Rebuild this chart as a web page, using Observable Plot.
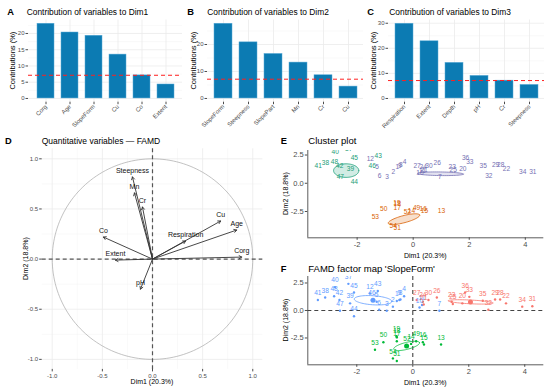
<!DOCTYPE html>
<html><head><meta charset="utf-8">
<script src="https://cdn.jsdelivr.net/npm/d3@7"></script>
<script src="https://cdn.jsdelivr.net/npm/@observablehq/plot@0.6"></script>
<style>
body{margin:0;background:#fff;}
#wrap{position:relative;width:550px;height:392px;overflow:hidden;background:#fff;font-family:"Liberation Sans",Arial,sans-serif;}
</style></head><body><div id="wrap"></div>
<script>
// ---------- data ----------
const dim1Vars = ["Corg","Age","SlopeForm","Cu","Co","Extent"];
const dim1Contrib = [23.0,20.3,19.3,13.5,7.1,4.3];
const dim2Vars = ["SlopeForm","Steepness","SlopePart","Mn","Cr","Cu"];
const dim2Contrib = [27.7,20.8,16.5,13.3,8.6,4.4];
const dim3Vars = ["Respiration","Extent","Depth","pH","Cr","Steepness"];
const dim3Contrib = [29.8,22.8,14.2,9.0,7.1,5.4];
const contribRef = 7.14;

const quantVars = ["Steepness","Mn","Cr","Cu","Age","Respiration","Corg","Co","Extent","pH"];
const quantDim1 = [-0.20,-0.18,-0.10,0.68,0.84,0.33,0.89,-0.49,-0.37,-0.12];
const quantDim2 = [0.82,0.66,0.52,0.38,0.29,0.18,0.02,0.22,-0.01,-0.30];

const indId = ["1","2","3","4","5","6","7","8","9","10","11","12","13","14","15","16","17","18","19","20",
  "21","22","23","24","25","26","27","28","29","30","31","32","33","34","35","36","37","38","39","40",
  "41","42","43","44","45","46","47","48","49","50","51","52","53","54"];
const indDim1 = [-0.57,-0.71,-0.93,-0.31,-1.29,-1.20,0.95,-0.44,-0.48,0.24,
  0.33,-1.53,1.01,-0.06,0.40,0.36,-0.57,-0.57,-0.58,1.77,
  0.39,3.33,1.39,0.36,1.43,0.86,0.14,3.12,2.94,0.56,
  4.27,2.70,2.02,3.91,2.50,1.87,-2.30,-3.13,-2.24,-2.78,
  -3.39,-2.62,-1.25,-2.10,-2.10,-1.46,-2.60,-2.81,0.12,-1.05,
  -0.57,-0.21,-1.35,-0.71];
const indDim2 = [0.86,0.35,-0.03,1.30,0.80,0.06,-0.03,1.00,0.95,0.27,
  0.50,1.54,-3.10,-3.04,-3.10,-2.89,-2.80,-2.45,-2.35,0.65,
  0.55,0.65,0.80,0.80,0.59,1.18,0.95,1.00,1.00,0.95,
  0.38,0.06,1.24,0.35,0.88,1.63,2.42,1.18,0.65,2.12,
  0.95,0.95,1.77,-0.53,1.63,0.95,-0.03,1.30,-2.80,-2.89,
  -4.60,-3.19,-3.57,-4.36];
const indCluster = ["2","2","2","2","2","2","2","2","2","2","2","2","3","3","3","3","3","3","3","2",
  "2","2","2","2","2","2","2","2","2","2","2","2","2","2","2","2","1","1","1","1",
  "1","1","1","1","1","1","1","1","3","3","3","3","3","3"];
const indSlope = ["S3","S3","S3","S3","S3","S3","S3","S3","S3","S3","S3","S3","S2","S2","S2","S2","S2","S2","S2","S1",
  "S1","S1","S1","S1","S1","S1","S1","S1","S1","S1","S1","S1","S1","S1","S1","S1","S3","S3","S3","S3",
  "S3","S3","S3","S3","S3","S3","S3","S3","S2","S2","S2","S2","S2","S2"];

const clusterNames = ["1","2","3"];
const clusterColors = ["#1B9E77","#7570B3","#D95F02"];
const clusterEllCx = [-2.39,0.97,-0.33], clusterEllCy = [1.12,0.84,-3.18];
const clusterEllAx = [0.45,0.82,0.56], clusterEllAy = [0,-0.03,0.37];
const clusterEllBx = [0,0,-0.04], clusterEllBy = [0.6,0.16,0.3];

const slopeNames = ["S1","S2","S3"];
const slopeColors = ["#F8766D","#00BA38","#619CFF"];
const slopeEllCx = [2.06,-0.22,-1.42], slopeEllCy = [0.78,-3.22,0.93];
const slopeEllAx = [0.80,0.46,0.67], slopeEllAy = [-0.1,0.3,-0.12];
const slopeEllBx = [0,-0.04,0.02], slopeEllBy = [0.17,0.3,0.41];

// ---------- helpers ----------
const W = 550, H = 392;
const FONT = "Liberation Sans, Arial, sans-serif";
const wrap = document.getElementById("wrap");
function add(node){ node.style.position="absolute"; node.style.left="0px"; node.style.top="0px"; wrap.appendChild(node); }
function frame(l,r,t,b){ return {width:W,height:H,marginLeft:l,marginRight:W-r,marginTop:t,marginBottom:H-b}; }
const baseStyle = {background:"transparent", fontFamily:FONT, color:"#4d4d4d", overflow:"visible"};

function barPanel(vars, vals, L, R){
  const max = d3.max(vals);
  const dom = [-0.05*max, 1.05*max];
  const majors = d3.ticks(dom[0], dom[1], 4).filter(v => v >= 0);
  const step = majors[1]-majors[0];
  const minors = majors.map(v => v+step/2).filter(v => v < dom[1]);
  const rows = vars.map((v,i) => ({v, c: vals[i]}));
  return Plot.plot({
    ...frame(L,R,19.5,101.7),
    style: baseStyle,
    x:{domain: vars, paddingInner:0.3, paddingOuter:0.25, label:null},
    y:{domain: dom, label:null},
    marks:[
      Plot.ruleY(minors,{stroke:"#f3f3f3", strokeWidth:0.5}),
      Plot.ruleY(majors,{stroke:"#ebebeb", strokeWidth:0.8}),
      Plot.gridX({stroke:"#ebebeb", strokeOpacity:1, strokeWidth:0.8}),
      Plot.barY(rows,{x:"v", y:"c", fill:"#0C7BB3", stroke:"#5AAAD6", strokeWidth:0.5}),
      Plot.ruleY([contribRef],{stroke:"#ff2020", strokeWidth:1, strokeDasharray:"4,3"}),
      Plot.axisY({ticks: majors, tickSize:2.5, tickPadding:1.5, fontSize:6, label:null}),
      Plot.axisX({tickSize:2.5, tickPadding:1, tickRotate:-45, fontSize:6, label:null})
    ]
  });
}

add(barPanel(dim1Vars, dim1Contrib, 28, 182));
add(barPanel(dim2Vars, dim2Contrib, 207, 363));
add(barPanel(dim3Vars, dim3Contrib, 388, 544));

// ---------- D ----------
const quantRows = quantVars.map((v,i) => ({v, x: quantDim1[i], y: quantDim2[i]}));
const circle = d3.range(0, 361, 2).map(a => ({x: Math.cos(a*Math.PI/180), y: Math.sin(a*Math.PI/180)}));
const dMaj = [-1,-0.5,0,0.5,1], dMin = [-0.75,-0.25,0.25,0.75];
add(Plot.plot({
  ...frame(41.7,262.3,148.3,368.9),
  style: baseStyle,
  x:{domain:[-1.1,1.1], label:null}, y:{domain:[-1.1,1.1], label:null},
  marks:[
    Plot.ruleX(dMin,{stroke:"#f3f3f3", strokeWidth:0.5}),
    Plot.ruleY(dMin,{stroke:"#f3f3f3", strokeWidth:0.5}),
    Plot.ruleX(dMaj,{stroke:"#ebebeb", strokeWidth:0.8}),
    Plot.ruleY(dMaj,{stroke:"#ebebeb", strokeWidth:0.8}),
    Plot.line(circle,{x:"x", y:"y", stroke:"#a8a8a8", strokeWidth:0.7}),
    Plot.ruleX([0],{stroke:"#555", strokeWidth:1.2, strokeDasharray:"4,3"}),
    Plot.ruleY([0],{stroke:"#555", strokeWidth:1.2, strokeDasharray:"4,3"}),
    Plot.arrow(quantRows,{x1:()=>0, y1:()=>0, x2:"x", y2:"y", stroke:"#333", strokeWidth:0.9, headLength:5}),
    Plot.text(quantRows,{x:"x", y:"y", text:"v", dy:-6, fontSize:7, fill:"#111"}),
    Plot.axisX({ticks:dMaj, tickFormat:d=>d.toFixed(1), tickSize:2.5, tickPadding:1.5, fontSize:6, label:null}),
    Plot.axisY({ticks:dMaj, tickFormat:d=>d.toFixed(1), tickSize:2.5, tickPadding:1.5, fontSize:6, label:null})
  ]
}));

// ---------- E / F ----------
const indRows = indId.map((id,i) => ({id, x: indDim1[i], y: indDim2[i], cl: indCluster[i], sf: indSlope[i]}));
function ellipseRows(names, cx, cy, ax, ay, bx, by){
  const out = [];
  names.forEach((g,k) => {
    for (let j=0; j<=72; j++){
      const t = j/72*2*Math.PI;
      out.push({g, x: cx[k]+ax[k]*Math.cos(t)+bx[k]*Math.sin(t), y: cy[k]+ay[k]*Math.cos(t)+by[k]*Math.sin(t)});
    }
  });
  return out;
}
const eEll = ellipseRows(clusterNames, clusterEllCx, clusterEllCy, clusterEllAx, clusterEllAy, clusterEllBx, clusterEllBy);
const fEll = ellipseRows(slopeNames, slopeEllCx, slopeEllCy, slopeEllAx, slopeEllAy, slopeEllBx, slopeEllBy);
const fMeans = slopeNames.map((g,k) => ({g, x: slopeEllCx[k], y: slopeEllCy[k]}));

const eX = [-3.76, 4.66], eY = [-4.83, 2.9];
add(Plot.plot({
  ...frame(307.3,543.3,150,237.3),
  style: baseStyle,
  x:{domain:eX, label:null}, y:{domain:eY, label:null},
  color:{domain:clusterNames, range:clusterColors},
  marks:[
    Plot.line(eEll,{x:"x", y:"y", z:"g", stroke:"g", fill:"g", fillOpacity:0.2, strokeWidth:0.8}),
    Plot.text(indRows,{x:"x", y:"y", text:"id", fill:"cl", fontSize:6.6, dy:-7, clip:true}),
    Plot.ruleX([eX[0]],{stroke:"#333", strokeWidth:0.8}),
    Plot.ruleY([eY[0]],{stroke:"#333", strokeWidth:0.8}),
    Plot.axisX({ticks:[-2,0,2,4], tickFormat:d=>String(d), tickSize:2.5, tickPadding:1.5, fontSize:7.5, label:null}),
    Plot.axisY({ticks:[-2.5,0,2.5], tickFormat:d=>d.toFixed(1), tickSize:2.5, tickPadding:1.5, fontSize:7.5, label:null})
  ]
}));

const fX = [-3.75, 4.68], fY = [-4.94, 3.09];
add(Plot.plot({
  ...frame(307.3,543.3,276,364.3),
  style: baseStyle,
  x:{domain:fX, label:null}, y:{domain:fY, label:null},
  color:{domain:slopeNames, range:slopeColors},
  marks:[
    Plot.ruleX([0],{stroke:"#444", strokeWidth:1.1, strokeDasharray:"4,3"}),
    Plot.ruleY([0],{stroke:"#444", strokeWidth:1.1, strokeDasharray:"4,3"}),
    Plot.line(fEll,{x:"x", y:"y", z:"g", stroke:"g", strokeWidth:0.8}),
    Plot.dot(fMeans,{x:"x", y:"y", fill:"g", r:2.5}),
    Plot.dot(indRows,{x:"x", y:"y", fill:"sf", r:1.2}),
    Plot.text(indRows,{x:"x", y:"y", text:"id", fill:"sf", fontSize:6.6, dy:-7, clip:true}),
    Plot.ruleX([fX[0]],{stroke:"#333", strokeWidth:0.8}),
    Plot.ruleY([fY[0]],{stroke:"#333", strokeWidth:0.8}),
    Plot.axisX({ticks:[-2,0,2,4], tickFormat:d=>String(d), tickSize:2.5, tickPadding:1.5, fontSize:7.5, label:null}),
    Plot.axisY({ticks:[-2.5,0,2.5], tickFormat:d=>d.toFixed(1), tickSize:2.5, tickPadding:1.5, fontSize:7.5, label:null})
  ]
}));

// ---------- titles ----------
const ov = d3.create("svg").attr("width",W).attr("height",H).attr("font-family",FONT);
function txt(x,y,s,size,o={}){
  const t = ov.append("text").attr("x",x).attr("y",y).attr("font-size",size).attr("fill",o.fill||"#000").text(s);
  if (o.bold) t.attr("font-weight","bold");
  if (o.anchor) t.attr("text-anchor",o.anchor);
  if (o.rot){ t.attr("transform",`rotate(-90 ${x} ${y})`).attr("dy","0.35em"); }
  return t;
}
txt(7.3,15,"A",9.3,{bold:true}); txt(26.7,15,"Contribution of variables to Dim1",8.4);
txt(187.3,15,"B",9.3,{bold:true}); txt(207.3,15,"Contribution of variables to Dim2",8.4);
txt(367.3,15,"C",9.3,{bold:true}); txt(389.3,15,"Contribution of variables to Dim3",8.4);
txt(12,60.6,"Contributions (%)",7.5,{rot:true,anchor:"middle"});
txt(193,60.6,"Contributions (%)",7.5,{rot:true,anchor:"middle"});
txt(373.7,60.6,"Contributions (%)",7.5,{rot:true,anchor:"middle"});
txt(5,144,"D",9.3,{bold:true}); txt(41.7,144,"Quantitative variables \u2014 FAMD",8.5);
txt(152,384,"Dim1 (20.3%)",7,{anchor:"middle"});
txt(25.5,258.6,"Dim2 (18.8%)",7,{rot:true,anchor:"middle"});
txt(280.7,144,"E",9.3,{bold:true}); txt(308.3,144,"Cluster plot",9.5);
txt(425.3,258,"Dim1 (20.3%)",7,{anchor:"middle"});
txt(285.5,193.6,"Dim2 (18.8%)",7,{rot:true,anchor:"middle"});
txt(280.7,272,"F",9.3,{bold:true}); txt(308.3,272,"FAMD factor map 'SlopeForm'",9.5);
txt(425.3,385,"Dim1 (20.3%)",7,{anchor:"middle"});
txt(285.5,320,"Dim2 (18.8%)",7,{rot:true,anchor:"middle"});
add(ov.node());
</script></body></html>
